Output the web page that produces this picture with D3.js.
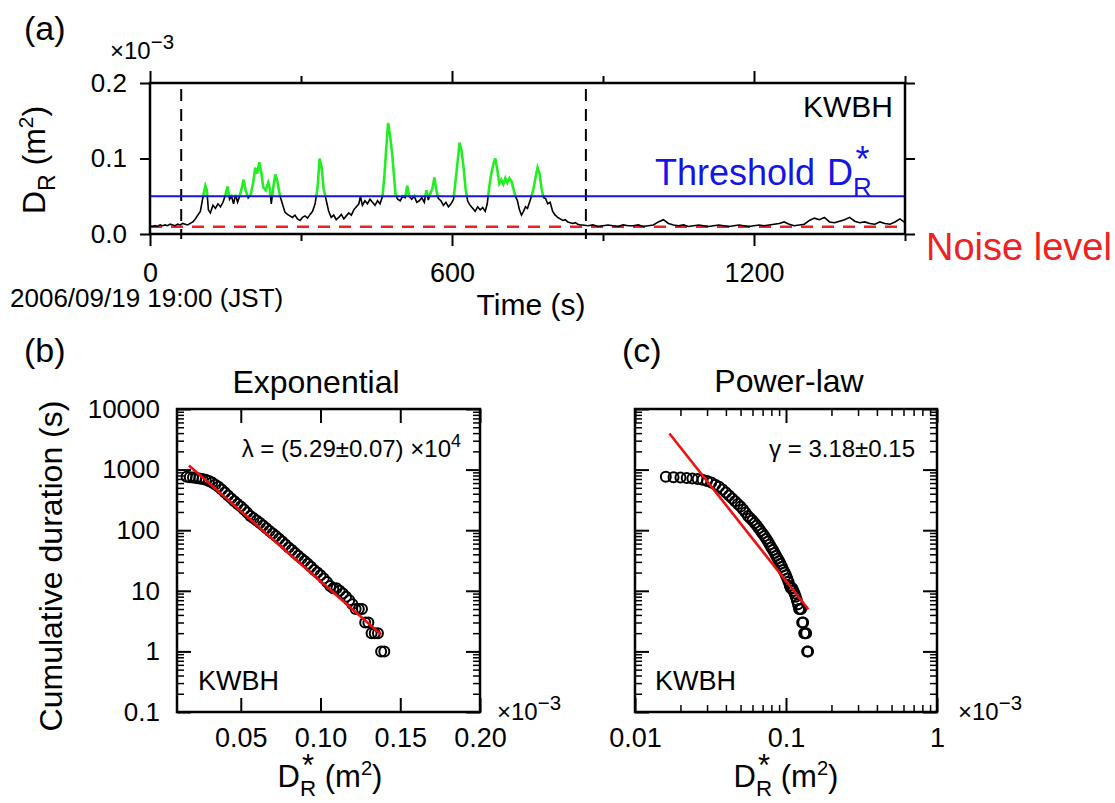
<!DOCTYPE html>
<html>
<head>
<meta charset="utf-8">
<script src="https://cdn.jsdelivr.net/npm/d3@7"></script>
<style>
	body { margin: 0; background: #fff; }
	svg { display: block; font-family: "Liberation Sans", Arial, Helvetica, sans-serif; }
</style>
</head>
<body>
<svg id="chart" width="1115" height="803"></svg>
<script>
// ---- panel (a): D_R time series (units of 1e-3 m^2)
const timeSec = [
	0, 5, 10, 15, 20, 25, 30, 35, 40, 45,
	50, 55, 60, 65, 70, 75, 80, 85, 90, 95,
	100, 105, 110, 113, 116, 120, 125, 130, 135, 140,
	145, 150, 154, 158, 162, 166, 170, 174, 178, 182,
	186, 190, 195, 200, 205, 209, 213, 217, 221, 225,
	230, 235, 238, 241, 245, 249, 253, 258, 263, 268,
	273, 278, 283, 288, 293, 298, 303, 308, 313, 318,
	323, 328, 333, 337, 341, 345, 350, 355, 360, 365,
	370, 375, 380, 385, 390, 395, 400, 405, 410, 415,
	418, 422, 427, 432, 437, 442, 447, 452, 457, 462,
	466, 469, 473, 477, 481, 485, 488, 492, 497, 502,
	507, 511, 515, 520, 525, 530, 535, 540, 545, 549,
	553, 557, 561, 565, 569, 573, 578, 583, 588, 593,
	598, 603, 607, 611, 615, 619, 623, 627, 631, 636,
	641, 646, 651, 656, 661, 666, 670, 674, 678, 682,
	686, 690, 694, 698, 702, 706, 710, 714, 718, 722,
	726, 730, 734, 738, 742, 746, 750, 754, 758, 762,
	766, 770, 774, 778, 782, 786, 790, 795, 800, 805,
	810, 815, 820, 825, 830, 835, 840, 845, 850, 855,
	860, 870, 880, 890, 900, 910, 920, 930, 940, 950,
	960, 970, 980, 990, 1000, 1010, 1020, 1030, 1040, 1050,
	1060, 1070, 1080, 1090, 1100, 1110, 1120, 1130, 1140, 1150,
	1160, 1170, 1180, 1190, 1200, 1210, 1220, 1230, 1240, 1250,
	1260, 1270, 1280, 1290, 1300, 1310, 1320, 1330, 1340, 1350,
	1360, 1370, 1380, 1390, 1400, 1410, 1420, 1430, 1440, 1450,
	1460, 1470, 1480, 1490, 1500
]
const drA = [
	.011, .010, .011, .010, .012, .011, .012, .011, .013, .012,
	.011, .013, .012, .014, .013, .012, .014, .016, .020, .025,
	.030, .048, .064, .058, .032, .028, .038, .034, .040, .036,
	.042, .052, .063, .046, .050, .040, .052, .042, .050, .060,
	.072, .058, .048, .052, .068, .088, .080, .095, .082, .062,
	.058, .068, .060, .040, .062, .079, .070, .051, .040, .029,
	.026, .024, .022, .025, .020, .018, .022, .024, .021, .026,
	.030, .040, .062, .100, .088, .060, .045, .030, .022, .025,
	.019, .022, .026, .020, .024, .028, .025, .032, .036, .040,
	.050, .038, .044, .040, .046, .042, .038, .044, .040, .050,
	.080, .110, .147, .130, .107, .075, .052, .046, .044, .050,
	.048, .064, .050, .046, .050, .042, .044, .048, .042, .058,
	.045, .054, .060, .075, .058, .047, .044, .038, .042, .036,
	.040, .046, .070, .095, .121, .110, .088, .060, .044, .038,
	.034, .030, .036, .032, .035, .030, .040, .062, .080, .092,
	.100, .085, .067, .072, .066, .074, .068, .074, .070, .060,
	.050, .044, .032, .025, .030, .036, .034, .042, .050, .060,
	.075, .088, .080, .060, .048, .047, .040, .042, .030, .025,
	.022, .020, .018, .019, .016, .015, .014, .015, .013, .012,
	.012, .011, .012, .010, .011, .012, .011, .010, .012, .011,
	.011, .012, .010, .011, .012, .016, .019, .014, .012, .011,
	.012, .010, .011, .012, .011, .010, .011, .012, .011, .010,
	.011, .012, .011, .010, .011, .012, .011, .012, .013, .014,
	.016, .013, .011, .012, .013, .018, .021, .019, .022, .016,
	.015, .017, .019, .022, .017, .015, .016, .014, .013, .016,
	.014, .013, .016, .020, .015
]
const thresholdA = 0.05
const noiseLevelA = 0.0095
const windowMarks = [62, 866]
const xTicksA = [0, 600, 1200]
const xMinorA = [300, 900, 1500]
const yTicksA = [0, 0.1, 0.2]

// ---- panels (b),(c): cumulative duration above threshold D*_R (units 1e-3 m^2)
const dStar = [
	0.016, 0.018, 0.020, 0.022, 0.024, 0.026, 0.028, 0.030, 0.032, 0.034,
	0.036, 0.038, 0.040, 0.042, 0.044, 0.046, 0.048, 0.050, 0.052, 0.054,
	0.056, 0.058, 0.060, 0.062, 0.064, 0.066, 0.068, 0.070, 0.072, 0.074,
	0.076, 0.078, 0.080, 0.082, 0.084, 0.086, 0.088, 0.090, 0.092, 0.094,
	0.096, 0.098, 0.100, 0.102, 0.104, 0.106, 0.108, 0.110, 0.112, 0.114,
	0.116, 0.118, 0.120, 0.122, 0.124, 0.126, 0.128, 0.130, 0.132, 0.134,
	0.136, 0.138, 0.140
]
const cumDuration = [
	760, 750, 740, 730, 715, 700, 680, 650, 610, 565,
	520, 470, 420, 375, 335, 300, 270, 245, 220, 195,
	172, 158, 145, 132, 120, 108, 97, 88, 80, 72,
	65, 58, 52, 47, 42, 38, 34, 31, 28, 25,
	22, 20, 18, 16, 14, 12, 11, 11, 10, 9,
	8, 7, 6, 5, 5, 5, 3, 3, 2, 2,
	2, 1, 1
]
const expFitD = [0.0175, 0.138]
const expFitDur = [1170, 1.9]
const powFitD = [0.0169, 0.1406]
const powFitDur = [3950, 4.95]

const xTicksB = [0.05, 0.10, 0.15, 0.20]
const yMajor = [0.1, 1, 10, 100, 1000, 10000]
const xMajorC = [0.01, 0.1, 1]

const svg = d3.select("#chart")
const defs = svg.append("defs")

// D_R with subscript, optional star stacked above it, optional unit -- one text element
function drLabel(parent, size, color, star, unit) {
	const t = parent.append("text").attr("fill", color).attr("font-size", size)
	const d = t.append("tspan").attr("x", 0).attr("y", 0).text("D")
	const wD = d.node().getComputedTextLength()
	const r = t.append("tspan").attr("dy", size * 0.3).attr("font-size", size * 0.72).text("R")
	const wR = r.node().getComputedTextLength()
	let w = wD + wR
	if (star) {
		t.append("tspan").attr("x", wD + wR / 2).attr("y", -size * 0.36)
			.attr("text-anchor", "middle").text("*")
	}
	if (unit) {
		const u1 = t.append("tspan").attr("x", w).attr("y", 0).text("\u00a0(m")
		w += u1.node().getComputedTextLength()
		const u2 = t.append("tspan").attr("dy", -size * 0.38).attr("font-size", size * 0.65).text("2")
		w += u2.node().getComputedTextLength()
		const u3 = t.append("tspan").attr("dy", size * 0.38).text(")")
		w += u3.node().getComputedTextLength()
	}
	return { g: t, w: w }
}

function times10(x, y, size, exp) {
	const t = svg.append("text").attr("x", x).attr("y", y).attr("font-size", size)
	t.append("tspan").text("\u00d710")
	t.append("tspan").attr("dy", -size * 0.42).attr("font-size", size * 0.85).text(exp)
}

function styleAxis(g, size, lw) {
	g.select(".domain").remove()
	g.selectAll(".tick line").attr("stroke", "#000").attr("stroke-width", lw)
	g.selectAll(".tick text").attr("font-size", size).attr("font-family", null).attr("fill", "#000")
	g.attr("font-family", null).attr("font-size", null)
}

// ================= panel (a)
const xA = d3.scaleLinear().domain([0, 1500]).range([150, 905])
const yA = d3.scaleLinear().domain([0, 0.2]).range([234, 83])
const gA = svg.append("g")

defs.append("clipPath").attr("id", "aboveT").append("rect")
	.attr("x", xA(0)).attr("y", yA(0.2)).attr("width", xA(1500) - xA(0))
	.attr("height", yA(thresholdA) - yA(0.2))
defs.append("clipPath").attr("id", "belowT").append("rect")
	.attr("x", xA(0)).attr("y", yA(thresholdA)).attr("width", xA(1500) - xA(0))
	.attr("height", yA(0) - yA(thresholdA))

const lineA = d3.line().x((d, i) => xA(timeSec[i])).y(d => yA(d))

gA.selectAll(".wmark").data(windowMarks).join("line")
	.attr("x1", d => xA(d)).attr("x2", d => xA(d))
	.attr("y1", yA(0.192)).attr("y2", yA(0) + 5)
	.attr("stroke", "#000").attr("stroke-width", 2).attr("stroke-dasharray", "12,8")

gA.append("line")
	.attr("x1", xA(0)).attr("x2", xA(1500))
	.attr("y1", yA(noiseLevelA)).attr("y2", yA(noiseLevelA))
	.attr("stroke", "#ee2222").attr("stroke-width", 2.5).attr("stroke-dasharray", "12,9")

gA.append("path").datum(drA).attr("d", lineA).attr("fill", "none")
	.attr("stroke", "#000").attr("stroke-width", 1.6).attr("clip-path", "url(#belowT)")
gA.append("path").datum(drA).attr("d", lineA).attr("fill", "none")
	.attr("stroke", "#22ee22").attr("stroke-width", 2.6).attr("clip-path", "url(#aboveT)")

gA.append("line")
	.attr("x1", xA(0)).attr("x2", xA(1500))
	.attr("y1", yA(thresholdA)).attr("y2", yA(thresholdA))
	.attr("stroke", "#1515e6").attr("stroke-width", 2.2)

gA.append("rect").attr("x", xA(0)).attr("y", yA(0.2))
	.attr("width", xA(1500) - xA(0)).attr("height", yA(0) - yA(0.2))
	.attr("fill", "none").attr("stroke", "#000").attr("stroke-width", 2.5)

let ax = gA.append("g").attr("transform", `translate(0,${yA(0)})`)
	.call(d3.axisBottom(xA).tickValues(xTicksA).tickSize(12).tickFormat(d3.format("d")))
styleAxis(ax, 27, 2)
ax.selectAll(".tick text").attr("y", 48).attr("dy", null)
ax = gA.append("g").attr("transform", `translate(0,${yA(0)})`)
	.call(d3.axisBottom(xA).tickValues(xMinorA).tickSize(7).tickFormat(""))
styleAxis(ax, 0, 2)
ax = gA.append("g").attr("transform", `translate(0,${yA(0.2)})`)
	.call(d3.axisTop(xA).tickValues(xTicksA).tickSize(12).tickFormat(""))
styleAxis(ax, 0, 2)
ax = gA.append("g").attr("transform", `translate(0,${yA(0.2)})`)
	.call(d3.axisTop(xA).tickValues(xMinorA).tickSize(7).tickFormat(""))
styleAxis(ax, 0, 2)
ax = gA.append("g").attr("transform", `translate(${xA(0)},0)`)
	.call(d3.axisLeft(yA).tickValues(yTicksA).tickSize(10).tickPadding(13).tickFormat(d3.format(".1f")))
styleAxis(ax, 26, 2)
ax = gA.append("g").attr("transform", `translate(${xA(1500)},0)`)
	.call(d3.axisRight(yA).tickValues(yTicksA).tickSize(10).tickFormat(""))
styleAxis(ax, 0, 2)

svg.append("text").attr("x", 24).attr("y", 40).attr("font-size", 34).text("(a)")
times10(110, 59, 24, "\u22123")
svg.append("text").attr("x", 10).attr("y", 307).attr("font-size", 26).text("2006/09/19 19:00 (JST)")
svg.append("text").attr("x", 531).attr("y", 315).attr("font-size", 30)
	.attr("text-anchor", "middle").text("Time (s)")
svg.append("text").attr("x", 893).attr("y", 117).attr("font-size", 30)
	.attr("text-anchor", "end").text("KWBH")
svg.append("text").attr("x", 926).attr("y", 260).attr("font-size", 38)
	.attr("fill", "#ee2222").text("Noise level")

const thr = svg.append("text").attr("x", 655).attr("y", 185).attr("font-size", 36)
	.attr("fill", "#1515e6").text("Threshold\u00a0")
const thrW = thr.node().getComputedTextLength()
const thrD = drLabel(svg, 36, "#1515e6", true, false)
thrD.g.attr("transform", `translate(${655 + thrW + 2},185)`)

const yLabA = drLabel(svg, 32, "#000", false, true)
yLabA.g.attr("transform", `translate(45,160) rotate(-90) translate(${-yLabA.w / 2},0)`)

// ================= panels (b) and (c)
const yLog = d3.scaleLog().domain([0.1, 10000]).range([712, 409])
const xB = d3.scaleLinear().domain([0.01, 0.2]).range([177, 480])
const xC = d3.scaleLog().domain([0.01, 1]).range([635, 937])

const yMinor = []
for (let e = -1; e < 4; e++) for (let k = 2; k < 10; k++) yMinor.push(k * Math.pow(10, e))
const xMinorC = []
for (let e = -2; e < 0; e++) for (let k = 2; k < 10; k++) xMinorC.push(k * Math.pow(10, e))

function logFrame(g, xs, x0, x1) {
	g.append("rect").attr("x", x0).attr("y", yLog(10000))
		.attr("width", x1 - x0).attr("height", yLog(0.1) - yLog(10000))
		.attr("fill", "none").attr("stroke", "#000").attr("stroke-width", 2.5)
	let a = g.append("g").attr("transform", `translate(${x0},0)`)
		.call(d3.axisLeft(yLog).tickValues(yMajor).tickSize(-14).tickFormat(""))
	styleAxis(a, 0, 2)
	a = g.append("g").attr("transform", `translate(${x0},0)`)
		.call(d3.axisLeft(yLog).tickValues(yMinor).tickSize(-7).tickFormat(""))
	styleAxis(a, 0, 1.5)
	a = g.append("g").attr("transform", `translate(${x1},0)`)
		.call(d3.axisRight(yLog).tickValues(yMajor).tickSize(-14).tickFormat(""))
	styleAxis(a, 0, 2)
	a = g.append("g").attr("transform", `translate(${x1},0)`)
		.call(d3.axisRight(yLog).tickValues(yMinor).tickSize(-7).tickFormat(""))
	styleAxis(a, 0, 1.5)
}

function drawPoints(g, xs, fitD, fitDur) {
	g.selectAll("circle").data(dStar).join("circle")
		.attr("cx", d => xs(d)).attr("cy", (d, i) => yLog(cumDuration[i]))
		.attr("r", 5).attr("fill", "none").attr("stroke", "#000").attr("stroke-width", 2)
	g.append("path").datum(fitD)
		.attr("d", d3.line().x(d => xs(d)).y((d, i) => yLog(fitDur[i])))
		.attr("stroke", "#ee1111").attr("stroke-width", 2.6).attr("fill", "none")
}

// (b)
const gB = svg.append("g")
drawPoints(gB, xB, expFitD, expFitDur)
logFrame(gB, xB, 177, 480)
ax = gB.append("g").attr("transform", "translate(177,0)")
	.call(d3.axisLeft(yLog).tickValues(yMajor).tickSize(0).tickPadding(17).tickFormat(d3.format("~g")))
styleAxis(ax, 26, 0)
ax = gB.append("g").attr("transform", `translate(0,${yLog(0.1)})`)
	.call(d3.axisBottom(xB).tickValues(xTicksB).tickSize(-14).tickFormat(d3.format(".2f")))
styleAxis(ax, 27, 2)
ax.selectAll(".tick text").attr("y", 35).attr("dy", null)
ax = gB.append("g").attr("transform", `translate(0,${yLog(10000)})`)
	.call(d3.axisTop(xB).tickValues(xTicksB).tickSize(-14).tickFormat(""))
styleAxis(ax, 0, 2)

// (c)
const gC = svg.append("g")
drawPoints(gC, xC, powFitD, powFitDur)
logFrame(gC, xC, 635, 937)
ax = gC.append("g").attr("transform", `translate(0,${yLog(0.1)})`)
	.call(d3.axisBottom(xC).tickValues(xMajorC).tickSize(-14).tickFormat(d3.format("~g")))
styleAxis(ax, 27, 2)
ax.selectAll(".tick text").attr("y", 35).attr("dy", null)
ax = gC.append("g").attr("transform", `translate(0,${yLog(0.1)})`)
	.call(d3.axisBottom(xC).tickValues(xMinorC).tickSize(-7).tickFormat(""))
styleAxis(ax, 0, 1.5)
ax = gC.append("g").attr("transform", `translate(0,${yLog(10000)})`)
	.call(d3.axisTop(xC).tickValues(xMajorC).tickSize(-14).tickFormat(""))
styleAxis(ax, 0, 2)
ax = gC.append("g").attr("transform", `translate(0,${yLog(10000)})`)
	.call(d3.axisTop(xC).tickValues(xMinorC).tickSize(-7).tickFormat(""))
styleAxis(ax, 0, 1.5)

// texts (b),(c)
svg.append("text").attr("x", 24).attr("y", 362).attr("font-size", 34).text("(b)")
svg.append("text").attr("x", 622).attr("y", 362).attr("font-size", 34).text("(c)")
svg.append("text").attr("x", 316).attr("y", 393).attr("font-size", 32)
	.attr("text-anchor", "middle").text("Exponential")
svg.append("text").attr("x", 789).attr("y", 392).attr("font-size", 32)
	.attr("text-anchor", "middle").text("Power-law")
const lam = svg.append("text").attr("x", 461).attr("y", 457).attr("font-size", 24).attr("text-anchor", "end")
lam.append("tspan").text("\u03bb = (5.29\u00b10.07) \u00d710")
lam.append("tspan").attr("dy", -10).attr("font-size", 18).text("4")
svg.append("text").attr("x", 915).attr("y", 457).attr("font-size", 24)
	.attr("text-anchor", "end").text("\u03b3 = 3.18\u00b10.15")
svg.append("text").attr("x", 198).attr("y", 690).attr("font-size", 27).text("KWBH")
svg.append("text").attr("x", 655).attr("y", 690).attr("font-size", 27).text("KWBH")
times10(497, 720, 24, "\u22123")
times10(958, 720, 24, "\u22123")

const xlabB = drLabel(svg, 31, "#000", true, true)
xlabB.g.attr("transform", `translate(${330 - xlabB.w / 2},787)`)
const xlabC = drLabel(svg, 31, "#000", true, true)
xlabC.g.attr("transform", `translate(${786 - xlabC.w / 2},787)`)

svg.append("text").attr("transform", "translate(62,566) rotate(-90)")
	.attr("font-size", 32).attr("text-anchor", "middle").text("Cumulative duration (s)")
</script>
</body>
</html>
